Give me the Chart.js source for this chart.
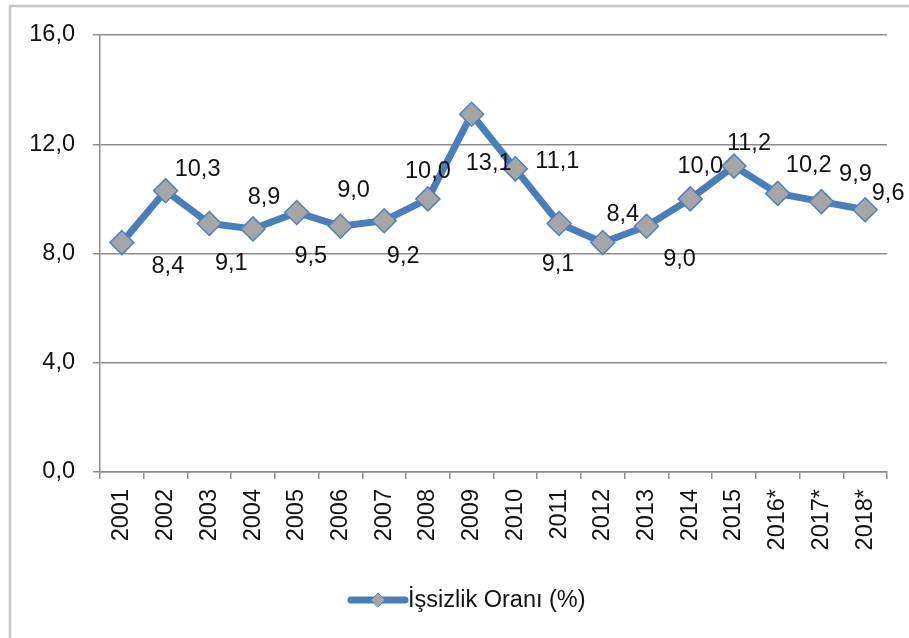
<!DOCTYPE html>
<html>
<head>
<meta charset="utf-8">
<script src="https://cdn.jsdelivr.net/npm/chart.js@4"></script>
<style>
  html, body { margin: 0; padding: 0; background: #fff; }
  #wrap { width: 909px; height: 638px; }
</style>
</head>
<body>
<div id="wrap"><canvas id="chart" width="909" height="638"></canvas></div>
<script>
// Veriler
const yillar = ['2001', '2002', '2003', '2004', '2005', '2006', '2007', '2008', '2009',
                '2010', '2011', '2012', '2013', '2014', '2015', '2016*', '2017*', '2018*'];
const issizlikOrani = [8.4, 10.3, 9.1, 8.9, 9.5, 9.0, 9.2, 10.0, 13.1,
                       11.1, 9.1, 8.4, 9.0, 10.0, 11.2, 10.2, 9.9, 9.6];
const seriAdi = 'İşsizlik Oranı (%)';
const yTicks = [0, 4, 8, 12, 16];

// Etiket kaydırmaları (piksel, noktaya göre)
const etiketKaydirma = [
    [46, 24], [32, -21], [22, 40], [11, -31], [14, 44], [13, -36], [19, 36], [0, -27], [17, 49],
    [42, -7], [-1, 41], [20, -28], [33, 33], [10, -32], [15, -23], [31, -28], [34, -27], [23, -16]
];

const FONT = '"Liberation Sans", Arial, sans-serif';
const FSIZE = 23.5;
const MAVI = '#4A7EBB';
const GRI = '#A5A5A5';
const YAZI = '#111';
const fmt = v => v.toFixed(1).replace('.', ',');

const cerceve = {
    id: 'cerceve',
    beforeDraw(chart) {
        const ctx = chart.ctx;
        ctx.save();
        ctx.strokeStyle = '#C4C4C4';
        ctx.lineWidth = 2.5;
        ctx.beginPath();
        ctx.moveTo(10, 638);
        ctx.lineTo(10, 6);
        ctx.lineTo(909, 6);
        ctx.stroke();
        ctx.restore();
    }
};

const degerEtiketleri = {
    id: 'degerEtiketleri',
    afterDatasetsDraw(chart) {
        const ctx = chart.ctx;
        const meta = chart.getDatasetMeta(0);
        ctx.save();
        ctx.font = FSIZE + 'px ' + FONT;
        ctx.fillStyle = YAZI;
        ctx.textAlign = 'center';
        ctx.textBaseline = 'middle';
        meta.data.forEach((pt, i) => {
            const [dx, dy] = etiketKaydirma[i];
            ctx.fillText(fmt(issizlikOrani[i]), pt.x + dx, pt.y + dy);
        });
        ctx.restore();
    }
};

const lejant = {
    id: 'lejant',
    afterDraw(chart) {
        const ctx = chart.ctx;
        const y = 600;
        ctx.save();
        ctx.strokeStyle = MAVI;
        ctx.lineWidth = 7;
        ctx.lineCap = 'round';
        ctx.beginPath();
        ctx.moveTo(351, y);
        ctx.lineTo(405, y);
        ctx.stroke();
        ctx.fillStyle = GRI;
        ctx.strokeStyle = '#4F81BD';
        ctx.lineWidth = 1;
        ctx.beginPath();
        ctx.moveTo(371, y); ctx.lineTo(378, y - 7); ctx.lineTo(385, y); ctx.lineTo(378, y + 7);
        ctx.closePath();
        ctx.fill();
        ctx.stroke();
        ctx.font = FSIZE + 'px ' + FONT;
        ctx.fillStyle = YAZI;
        ctx.textAlign = 'left';
        ctx.textBaseline = 'middle';
        ctx.fillText(seriAdi, 408, y + 1);
        ctx.restore();
    }
};

new Chart(document.getElementById('chart'), {
    type: 'line',
    data: {
        labels: yillar,
        datasets: [{
            label: seriAdi,
            data: issizlikOrani,
            borderColor: MAVI,
            borderWidth: 7,
            tension: 0,
            pointStyle: 'rectRot',
            pointRadius: 12,
            pointBackgroundColor: GRI,
            pointBorderColor: '#4F81BD',
            pointBorderWidth: 1.5
        }]
    },
    options: {
        responsive: false,
        animation: false,
        layout: { padding: { top: 35, right: 22, left: 0, bottom: 0 } },
        plugins: {
            legend: { display: false },
            tooltip: { enabled: false }
        },
        scales: {
            x: {
                offset: true,
                grid: {
                    offset: true,
                    drawOnChartArea: false,
                    color: '#8C8C8C',
                    lineWidth: 1.5,
                    tickLength: 7
                },
                border: { color: '#8C8C8C', width: 1.5 },
                ticks: {
                    font: { family: FONT, size: FSIZE },
                    color: YAZI,
                    minRotation: 90,
                    maxRotation: 90,
                    padding: 10,
                    autoSkip: false
                },
                afterFit(scale) { scale.height = 166; }
            },
            y: {
                min: 0,
                max: 16,
                afterBuildTicks(scale) { scale.ticks = yTicks.map(v => ({ value: v })); },
                grid: {
                    color: '#8C8C8C',
                    lineWidth: 1.5,
                    tickLength: 7
                },
                border: { color: '#8C8C8C', width: 1.5 },
                ticks: {
                    font: { family: FONT, size: FSIZE },
                    color: YAZI,
                    padding: 18,
                    callback: v => fmt(v)
                },
                afterFit(scale) { scale.width = 100; }
            }
        }
    },
    plugins: [cerceve, degerEtiketleri, lejant]
});
</script>
</body>
</html>
